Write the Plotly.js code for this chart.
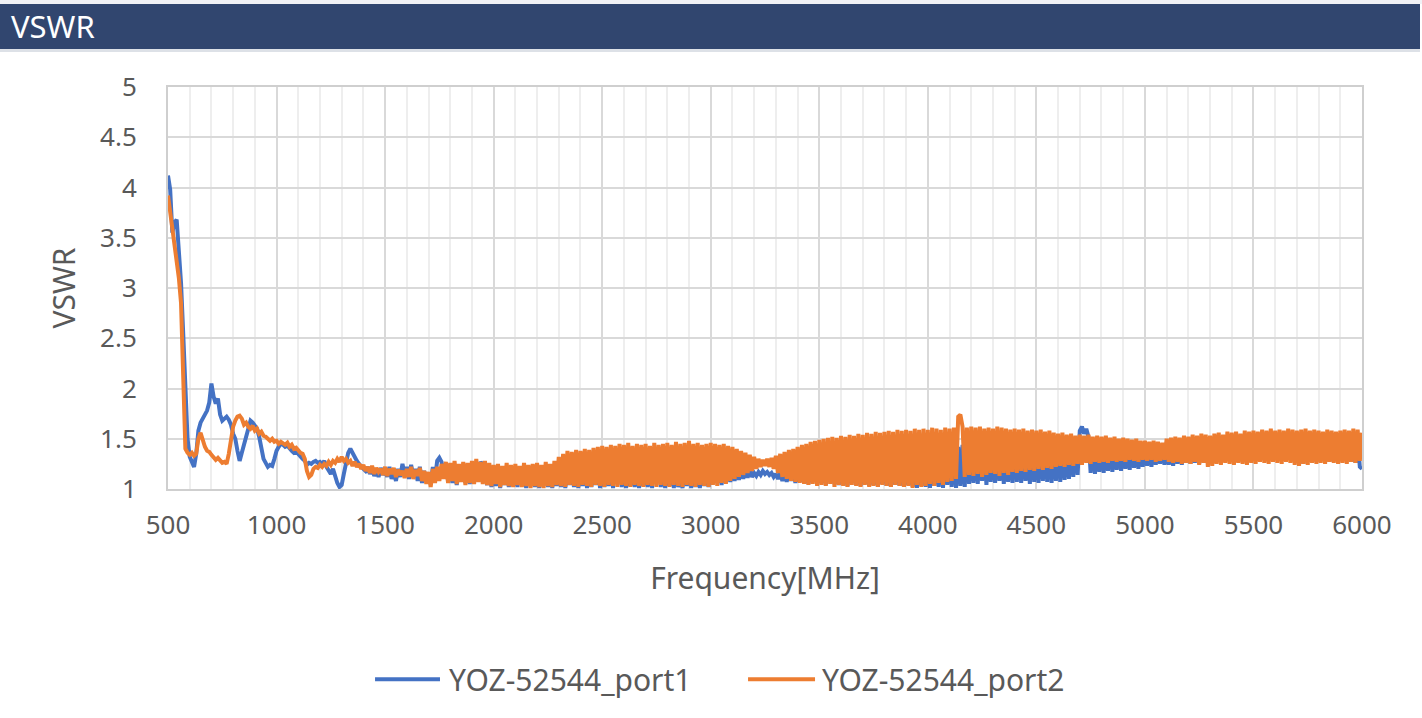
<!DOCTYPE html>
<html>
<head>
<meta charset="utf-8">
<script src="https://cdn.plot.ly/plotly-3.0.1.min.js"></script>
<style>
  html, body { margin: 0; padding: 0; background: #ffffff; width: 1422px; height: 718px; overflow: hidden; }
  #topstrip { position: absolute; left: 0; top: 0; width: 1422px; height: 4px; background: #f0f1f5; }
  #header { position: absolute; left: 0; top: 4px; width: 1420px; height: 45px; background: #31466f; z-index: 10;
            color: #ffffff; font-family: "Noto Sans", sans-serif; font-size: 31px; line-height: 44px; padding-left: 11px; box-sizing: border-box; }
  #headline { position: absolute; left: 0; top: 49px; width: 1420px; height: 3px; background: #dde1e7; z-index: 10; }
  #chart { position: absolute; left: 0; top: 0; width: 1422px; height: 718px; }
</style>
</head>
<body>
<div id="chart"></div>
<div id="topstrip"></div>
<div id="header">VSWR</div>
<div id="headline"></div>
<script>
// Frequency sampling (MHz)
const freqStart = 500;
const freqStep = 10;

// VSWR, YOZ-52544_port1 (one row = 100 MHz, 10 MHz steps)
const port1 = [
  4.12,3.98,3.55,3.65,3.68,3.35,3.05,2.55,1.95,1.50,
  1.32,1.28,1.22,1.35,1.58,1.66,1.70,1.72,1.78,1.86,
  2.05,1.92,1.85,1.90,1.74,1.68,1.70,1.72,1.69,1.64,
  1.55,1.50,1.38,1.28,1.36,1.45,1.50,1.60,1.68,1.66,
  1.62,1.60,1.52,1.40,1.30,1.26,1.22,1.24,1.23,1.30,
  1.38,1.42,1.45,1.44,1.42,1.43,1.40,1.38,1.36,1.37,
  1.35,1.32,1.30,1.28,1.24,1.26,1.25,1.27,1.28,1.26,
  1.27,1.25,1.28,1.22,1.18,1.15,1.20,1.12,1.06,1.02,
  1.04,1.15,1.28,1.36,1.40,1.36,1.30,1.28,1.25,1.22,
  1.20,1.18,1.22,1.15,1.20,1.13,1.18,1.12,1.21,1.14,
  1.19,1.12,1.22,1.10,1.18,1.08,1.20,1.12,1.25,1.15,
  1.22,1.10,1.24,1.12,1.20,1.08,1.22,1.06,1.18,1.10,
  1.14,1.05,1.22,1.10,1.28,1.31,1.27,1.14,1.25,1.08,
  1.22,1.06,1.20,1.04,1.18,1.10,1.20,1.06,1.22,1.05,
  1.24,1.08,1.26,1.10,1.27,1.24,1.12,1.04,1.20,1.02,
  1.18,1.03,1.22,1.01,1.20,1.04,1.18,1.02,1.21,1.03,
  1.19,1.02,1.22,1.05,1.17,1.01,1.20,1.03,1.19,1.02,
  1.21,1.01,1.18,1.04,1.22,1.02,1.20,1.01,1.23,1.03,
  1.24,1.02,1.26,1.01,1.22,1.04,1.27,1.02,1.25,1.01,
  1.28,1.03,1.26,1.01,1.30,1.02,1.27,1.04,1.29,1.01,
  1.30,1.02,1.28,1.03,1.31,1.01,1.29,1.10,1.30,1.02,
  1.32,1.01,1.15,1.03,1.30,1.02,1.28,1.01,1.31,1.03,
  1.30,1.02,1.32,1.01,1.29,1.12,1.31,1.02,1.28,1.01,
  1.30,1.03,1.33,1.01,1.29,1.02,1.12,1.01,1.31,1.03,
  1.32,1.01,1.30,1.02,1.14,1.01,1.29,1.03,1.31,1.02,
  1.30,1.05,1.28,1.06,1.27,1.04,1.26,1.08,1.25,1.07,
  1.24,1.08,1.25,1.09,1.23,1.10,1.22,1.11,1.21,1.12,
  1.16,1.13,1.17,1.14,1.18,1.15,1.17,1.14,1.16,1.12,
  1.15,1.10,1.17,1.08,1.18,1.07,1.20,1.08,1.22,1.06,
  1.24,1.07,1.25,1.06,1.26,1.05,1.28,1.07,1.27,1.05,
  1.29,1.06,1.30,1.04,1.31,1.08,1.30,1.05,1.32,1.04,
  1.33,1.05,1.32,1.03,1.34,1.06,1.33,1.04,1.35,1.03,
  1.34,1.05,1.36,1.03,1.35,1.04,1.37,1.02,1.36,1.05,
  1.38,1.03,1.36,1.02,1.38,1.04,1.37,1.03,1.39,1.02,
  1.38,1.04,1.40,1.02,1.39,1.01,1.40,1.03,1.41,1.02,
  1.40,1.01,1.42,1.03,1.41,1.02,1.43,1.01,1.42,1.04,
  1.43,1.02,1.44,1.01,1.42,1.03,1.44,1.02,1.45,1.05,
  1.44,1.06,1.45,1.05,1.43,1.08,1.44,1.04,1.45,1.07,
  1.44,1.06,1.45,1.08,1.43,1.05,1.44,1.07,1.45,1.06,
  1.46,1.07,1.45,1.06,1.47,1.08,1.46,1.05,1.47,1.07,
  1.46,1.06,1.48,1.08,1.47,1.07,1.48,1.06,1.49,1.08,
  1.48,1.07,1.49,1.09,1.50,1.10,1.48,1.12,1.50,1.14,
  1.58,1.62,1.55,1.60,1.52,1.16,1.50,1.15,1.48,1.17,
  1.47,1.16,1.46,1.18,1.47,1.17,1.45,1.19,1.46,1.18,
  1.45,1.20,1.44,1.19,1.45,1.21,1.44,1.20,1.43,1.22,
  1.44,1.23,1.43,1.22,1.45,1.24,1.44,1.25,1.43,1.24,
  1.45,1.24,1.44,1.23,1.46,1.25,1.44,1.24,1.45,1.26,
  1.44,1.25,1.46,1.26,1.45,1.25,1.47,1.27,1.46,1.26,
  1.47,1.27,1.46,1.28,1.48,1.27,1.47,1.28,1.46,1.29,
  1.48,1.28,1.47,1.29,1.48,1.28,1.49,1.29,1.47,1.28,
  1.48,1.29,1.49,1.28,1.48,1.30,1.49,1.29,1.50,1.28,
  1.49,1.29,1.50,1.28,1.49,1.30,1.48,1.29,1.50,1.28,
  1.49,1.27,1.50,1.25,1.49,1.27,1.50,1.28,1.49,1.27,
  1.50,1.28,1.49,1.29,1.50,1.27,1.49,1.28,1.50,1.29,
  1.49,1.28,1.50,1.29,1.51,1.27,1.50,1.26,1.49,1.22,
  1.20
];

// VSWR, YOZ-52544_port2 (one row = 100 MHz, 10 MHz steps)
const port2 = [
  3.92,3.75,3.60,3.48,3.30,3.10,2.85,2.15,1.40,1.36,
  1.34,1.36,1.33,1.35,1.50,1.56,1.48,1.42,1.38,1.37,
  1.34,1.32,1.29,1.31,1.28,1.26,1.27,1.25,1.35,1.48,
  1.62,1.68,1.72,1.73,1.70,1.64,1.66,1.62,1.60,1.63,
  1.58,1.60,1.55,1.57,1.53,1.52,1.50,1.48,1.50,1.47,
  1.48,1.45,1.47,1.46,1.44,1.46,1.42,1.44,1.40,1.41,
  1.38,1.36,1.35,1.30,1.18,1.12,1.14,1.20,1.22,1.21,
  1.24,1.22,1.25,1.23,1.27,1.24,1.28,1.26,1.30,1.27,
  1.32,1.28,1.30,1.26,1.28,1.23,1.27,1.22,1.25,1.20,
  1.24,1.18,1.22,1.16,1.23,1.15,1.21,1.17,1.20,1.14,
  1.22,1.13,1.20,1.15,1.21,1.12,1.19,1.14,1.18,1.11,
  1.20,1.12,1.22,1.10,1.19,1.13,1.21,1.08,1.18,1.05,
  1.17,1.02,1.20,1.06,1.22,1.08,1.25,1.10,1.27,1.06,
  1.26,1.08,1.28,1.05,1.25,1.07,1.27,1.04,1.26,1.06,
  1.28,1.05,1.30,1.07,1.27,1.05,1.28,1.04,1.26,1.03,
  1.24,1.05,1.25,1.02,1.23,1.04,1.26,1.03,1.24,1.02,
  1.25,1.04,1.23,1.02,1.26,1.03,1.24,1.01,1.25,1.03,
  1.26,1.02,1.24,1.01,1.27,1.03,1.25,1.02,1.28,1.04,
  1.32,1.03,1.35,1.02,1.38,1.04,1.37,1.03,1.39,1.02,
  1.38,1.04,1.40,1.03,1.39,1.02,1.41,1.04,1.42,1.03,
  1.43,1.02,1.42,1.04,1.44,1.03,1.43,1.02,1.45,1.04,
  1.44,1.03,1.46,1.02,1.43,1.04,1.45,1.03,1.44,1.02,
  1.45,1.04,1.43,1.03,1.46,1.02,1.44,1.04,1.45,1.03,
  1.46,1.02,1.44,1.04,1.47,1.03,1.45,1.02,1.46,1.04,
  1.48,1.03,1.45,1.02,1.46,1.04,1.44,1.03,1.45,1.02,
  1.46,1.04,1.45,1.03,1.44,1.06,1.45,1.05,1.43,1.08,
  1.42,1.10,1.40,1.12,1.38,1.14,1.36,1.16,1.34,1.18,
  1.32,1.20,1.30,1.22,1.29,1.23,1.30,1.22,1.31,1.20,
  1.33,1.16,1.35,1.12,1.37,1.10,1.39,1.08,1.40,1.07,
  1.42,1.06,1.44,1.05,1.45,1.04,1.47,1.05,1.48,1.03,
  1.49,1.04,1.50,1.03,1.51,1.05,1.52,1.02,1.51,1.04,
  1.53,1.03,1.52,1.02,1.54,1.04,1.53,1.03,1.55,1.02,
  1.54,1.04,1.56,1.02,1.55,1.03,1.57,1.02,1.56,1.04,
  1.57,1.03,1.58,1.02,1.57,1.04,1.59,1.03,1.58,1.02,
  1.59,1.03,1.58,1.01,1.60,1.04,1.59,1.02,1.60,1.03,
  1.59,1.05,1.61,1.03,1.60,1.06,1.59,1.04,1.61,1.07,
  1.60,1.08,1.61,1.10,1.72,1.74,1.62,1.12,1.61,1.14,
  1.62,1.13,1.61,1.15,1.62,1.12,1.60,1.14,1.61,1.16,
  1.60,1.15,1.62,1.13,1.61,1.16,1.60,1.14,1.59,1.17,
  1.60,1.16,1.59,1.18,1.60,1.17,1.58,1.19,1.59,1.18,
  1.58,1.20,1.59,1.19,1.57,1.21,1.58,1.20,1.56,1.22,
  1.55,1.23,1.56,1.22,1.54,1.24,1.55,1.23,1.53,1.25,
  1.54,1.24,1.53,1.26,1.54,1.25,1.52,1.27,1.53,1.26,
  1.52,1.27,1.53,1.26,1.51,1.28,1.52,1.27,1.50,1.28,
  1.51,1.27,1.50,1.29,1.49,1.28,1.50,1.27,1.48,1.29,
  1.48,1.28,1.47,1.29,1.48,1.27,1.47,1.28,1.46,1.29,
  1.50,1.27,1.51,1.26,1.52,1.27,1.51,1.25,1.53,1.26,
  1.52,1.25,1.54,1.27,1.53,1.24,1.55,1.26,1.54,1.22,
  1.53,1.23,1.55,1.25,1.56,1.24,1.54,1.26,1.57,1.25,
  1.56,1.24,1.57,1.26,1.55,1.25,1.58,1.24,1.57,1.26,
  1.58,1.25,1.57,1.27,1.59,1.26,1.58,1.25,1.60,1.27,
  1.58,1.26,1.59,1.25,1.58,1.27,1.60,1.26,1.59,1.24,
  1.58,1.23,1.59,1.25,1.60,1.24,1.58,1.26,1.59,1.25,
  1.58,1.26,1.57,1.25,1.59,1.27,1.58,1.26,1.57,1.25,
  1.58,1.26,1.59,1.25,1.58,1.27,1.60,1.26,1.59,1.28,
  1.56
];

const seriesNames = ['YOZ-52544_port1', 'YOZ-52544_port2'];
const seriesColors = ['#4472c4', '#ed7d31'];

const xTickVals = [500,1000,1500,2000,2500,3000,3500,4000,4500,5000,5500,6000];
const yTickVals = [1,1.5,2,2.5,3,3.5,4,4.5,5];
const yTickText = ['1','1.5','2','2.5','3','3.5','4','4.5','5'];

function freqsFor(vals) { return vals.map((_, i) => freqStart + i * freqStep); }

const FONT = '"Noto Sans", sans-serif';
const TXT = '#595959';

const traces = [port1, port2].map((vals, k) => ({
  type: 'scatter',
  mode: 'lines',
  name: seriesNames[k],
  x: freqsFor(vals),
  y: vals,
  line: { color: seriesColors[k], width: 4 },
  showlegend: false,
  hoverinfo: 'x+y+name'
}));

// legend drawn as line samples + labels below the plot (paper coordinates)
const legendY = -0.473;
const legendItems = [
  { x0: 0.1734, x1: 0.2278, tx: 0.2337 },
  { x0: 0.4858, x1: 0.5419, tx: 0.5461 }
];
const shapes = legendItems.map((it, k) => ({
  type: 'line', xref: 'paper', yref: 'paper',
  x0: it.x0, x1: it.x1, y0: legendY, y1: legendY,
  line: { color: seriesColors[k], width: 4 }
}));
const annotations = legendItems.map((it, k) => ({
  xref: 'paper', yref: 'paper', x: it.tx, y: legendY,
  xanchor: 'left', yanchor: 'middle', showarrow: false,
  text: seriesNames[k],
  font: { family: FONT, size: 30, color: TXT }
}));

const layout = {
  width: 1422,
  height: 718,
  paper_bgcolor: 'rgba(0,0,0,0)',
  plot_bgcolor: '#ffffff',
  margin: { l: 168, r: 60, t: 87, b: 229 },
  font: { family: FONT, size: 25, color: TXT },
  showlegend: false,
  shapes: shapes,
  annotations: annotations,
  xaxis: {
    range: [500, 6000],
    tickmode: 'array',
    tickvals: xTickVals,
    ticktext: xTickVals.map(String),
    showgrid: true,
    gridcolor: '#d9d9d9',
    gridwidth: 2,
    minor: { dtick: 100, showgrid: true, gridcolor: '#eeeeee', gridwidth: 2, ticks: '' },
    showline: true, mirror: true, linecolor: '#cfcfcf', linewidth: 2,
    zeroline: false,
    ticks: '',
    ticklabelstandoff: 12,
    tickfont: { family: FONT, size: 26, color: TXT },
    title: { text: 'Frequency[MHz]', font: { family: FONT, size: 30, color: TXT }, standoff: 27 }
  },
  yaxis: {
    range: [1, 5],
    tickmode: 'array',
    tickvals: yTickVals,
    ticktext: yTickText,
    showgrid: true,
    gridcolor: '#d9d9d9',
    gridwidth: 2,
    showline: true, mirror: true, linecolor: '#cfcfcf', linewidth: 2,
    zeroline: false,
    ticks: '',
    ticklabelstandoff: 24,
    tickfont: { family: FONT, size: 26, color: TXT },
    title: { text: 'VSWR', font: { family: FONT, size: 30, color: TXT }, standoff: 16 }
  }
};

Plotly.newPlot('chart', traces, layout, { displayModeBar: false });
</script>
</body>
</html>
